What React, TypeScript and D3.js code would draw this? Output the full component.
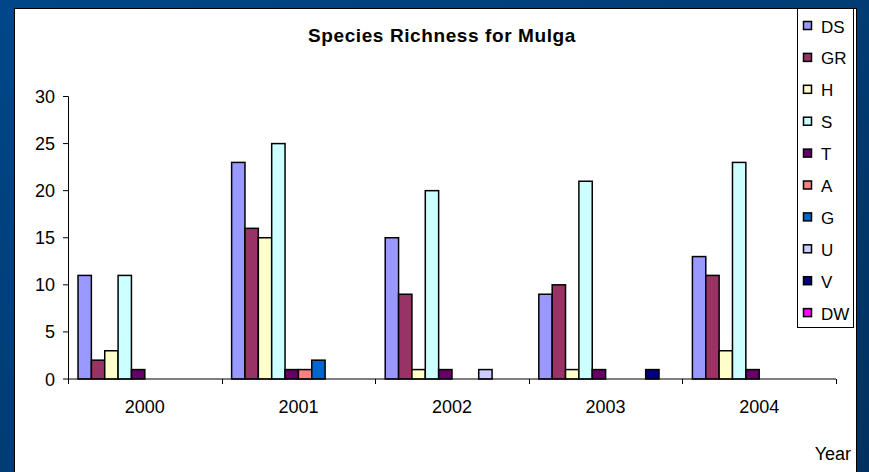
import React from "react";
import * as d3 from "d3";

const years = ["2000", "2001", "2002", "2003", "2004"];
const seriesNames = ["DS", "GR", "H", "S", "T", "A", "G", "U", "V", "DW"];
const seriesColors = ["#9999FF", "#993366", "#FFFFCC", "#CCFFFF", "#660066", "#FF8080", "#0066CC", "#CCCCFF", "#000080", "#FF00FF"];
const DS = [11, 23, 15, 9, 13];
const GR = [2, 16, 9, 10, 11];
const H = [3, 15, 1, 1, 3];
const S = [11, 25, 20, 21, 23];
const T = [1, 1, 1, 1, 1];
const A = [0, 1, 0, 0, 0];
const G = [0, 2, 0, 0, 0];
const U = [0, 0, 1, 0, 0];
const V = [0, 0, 0, 1, 0];
const DW = [0, 0, 0, 0, 0];
const yTicks = [0, 5, 10, 15, 20, 25, 30];
const title = "Species Richness for Mulga";
const xTitle = "Year";

const seriesValues = [DS, GR, H, S, T, A, G, U, V, DW];

export default function App() {
  const W = 869, Hh = 472;
  const x0 = d3.scaleBand<string>().domain(years).range([68, 836]).paddingInner(0).paddingOuter(0);
  const x1 = d3.scaleBand<string>().domain(seriesNames).range([0, x0.bandwidth()]).paddingInner(0).paddingOuter(0.75);
  const y = d3.scaleLinear().domain([0, 30]).range([379, 96.5]);
  const font = "Arial, 'Liberation Sans', sans-serif";
  const boundaries = years.map((yr) => x0(yr)!).concat([836]);

  return (
    <svg width={W} height={Hh} style={{ position: "fixed", left: 0, top: 0 }} fontFamily={font}>
      <defs>
        <linearGradient id="bg" x1="0" y1="0" x2="1" y2="1">
          <stop offset="0" stopColor="#004789" />
          <stop offset="1" stopColor="#02315f" />
        </linearGradient>
      </defs>
      <rect x={0} y={0} width={W} height={Hh} fill="url(#bg)" />
      <rect x={14.5} y={8.5} width={842} height={470} fill="#fff" stroke="#000" strokeWidth={1} />
      <text x={442} y={42} textAnchor="middle" fontSize={19} fontWeight="bold" letterSpacing={0.6}>{title}</text>
      {/* bars */}
      {seriesValues.map((vals, si) =>
        vals.map((v, ci) =>
          v > 0 ? (
            <rect
              key={`${si}-${ci}`}
              x={x0(years[ci])! + x1(seriesNames[si])!}
              y={y(v)}
              width={x1.bandwidth()}
              height={y(0) - y(v)}
              fill={seriesColors[si]}
              stroke="#000"
              strokeWidth={1.5}
            />
          ) : null
        )
      )}
      {/* y axis */}
      <line x1={68.5} x2={68.5} y1={y(30)} y2={379} stroke="#000" />
      {yTicks.map((t) => (
        <g key={t}>
          <line x1={63} x2={68.5} y1={y(t)} y2={y(t)} stroke="#000" />
          <text x={55} y={y(t) + 6.5} textAnchor="end" fontSize={18}>{t}</text>
        </g>
      ))}
      {/* x axis */}
      <line x1={68} x2={836} y1={379} y2={379} stroke="#000" />
      {boundaries.map((b, i) => (
        <line key={i} x1={Math.round(b) + 0.5} x2={Math.round(b) + 0.5} y1={379} y2={384} stroke="#000" />
      ))}
      {years.map((yr) => (
        <text key={yr} x={x0(yr)! + x0.bandwidth() / 2} y={413} textAnchor="middle" fontSize={18}>{yr}</text>
      ))}
      <text x={851} y={460} textAnchor="end" fontSize={18}>{xTitle}</text>
      {/* legend */}
      <rect x={797.5} y={8.5} width={56} height={319} fill="#fff" stroke="#000" />
      {seriesNames.map((n, i) => {
        const cy = 26 + i * 31.9;
        return (
          <g key={n}>
            <rect x={803.5} y={cy - 4.5} width={8} height={8} fill={seriesColors[i]} stroke="#000" strokeWidth={1.5} />
            <text x={821} y={cy + 6.5} fontSize={17}>{n}</text>
          </g>
        );
      })}
    </svg>
  );
}
